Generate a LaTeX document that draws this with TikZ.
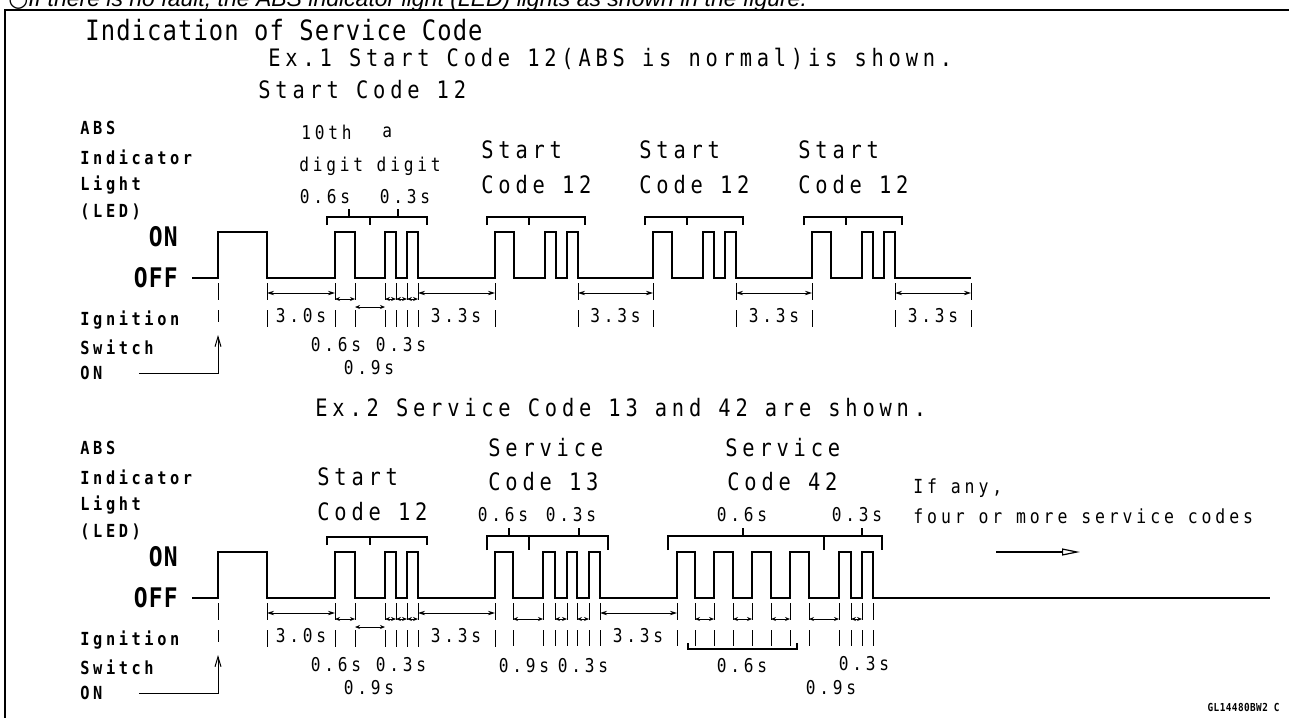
\documentclass[tikz,border=0pt]{standalone}
\usepackage{fontspec}
\usetikzlibrary{positioning,arrows.meta}
\newfontfamily\cadfont{DejaVu Sans Mono}[FakeStretch=0.85,LetterSpace=20]
\newfontfamily\cadtight{DejaVu Sans Mono}[FakeStretch=0.85,LetterSpace=4]
\newfontfamily\notefont{Liberation Sans}
\newfontfamily\bulletfont{DejaVu Sans}

\begin{document}
\begin{tikzpicture}[x=0.5pt,y=-0.5pt,>={Stealth[length=3.5pt,width=2.2pt]},
  wave/.style={line width=0.9pt},
  dimline/.style={<->,line width=0.45pt},
  gapdim/.style={{Stealth[length=2.5pt,width=2pt]}-{Stealth[length=2.5pt,width=2pt]},line width=0.45pt},
  extline/.style={line width=0.5pt,dash pattern=on 8.5pt off 5pt},
  codebracket/.style={line width=0.6pt},
  igarrow/.style={-{Straight Barb[length=5pt,width=3pt]},line width=0.5pt},
  bigarrow/.style={-{Triangle[open,length=9pt,width=3.5pt]},line width=0.6pt},
  codelbl/.style={font=\cadfont\fontsize{12}{13}\selectfont,inner sep=0pt,anchor=west},
  sidelbl/.style={font=\cadfont\bfseries\fontsize{9}{10}\selectfont,inner sep=0pt,anchor=west},
  timelbl/.style={font=\cadfont\fontsize{9.5}{10}\selectfont,inner sep=0pt},
  onoff/.style={font=\cadtight\bfseries\fontsize{13.5}{14}\selectfont,inner sep=0pt,anchor=east}]
\useasboundingbox (0,0) rectangle (1289,718);

% cut-off line above the frame
\node[font=\notefont\itshape\fontsize{11.5}{13}\selectfont,inner sep=0pt,anchor=base west] (note) at (8,6)
  {{\bulletfont\upshape ○}If there is no fault, the ABS indicator light (LED) lights as shown in the figure.};
\draw[line width=1pt] (1289,10) -- (5,10) -- (5,718);

\node[font=\cadtight\fontsize{14}{15}\selectfont,inner sep=0pt,anchor=west] (title) at (85,30) {Indication of Service Code};
\node[codelbl] (ex1) at (268,59) {Ex.1 Start Code 12(ABS is normal)is shown.};

% parts shared by both examples
\foreach \yo/\ex in {0/1,320/2}{
  \node[sidelbl] (abs\ex) at (80,128+\yo) {ABS};
  \node[sidelbl] (ind\ex) at (80,157+\yo) {Indicator};
  \node[sidelbl] (light\ex) at (80,185+\yo) {Light};
  \node[sidelbl] (led\ex) at (80,212+\yo) {(LED)};
  \node[onoff] (on\ex) at (178,237+\yo) {ON};
  \node[onoff] (off\ex) at (178,278+\yo) {OFF};
  \node[sidelbl] (ign\ex) at (80,320+\yo) {Ignition};
  \node[sidelbl] (sw\ex) at (80,347+\yo) {Switch};
  \node[sidelbl] (igon\ex) at (80,373+\yo) {ON};
  \coordinate (key\ex) at (218,335+\yo);
  \draw[igarrow] ([xshift=18pt]igon\ex.east) -| (key\ex);
  \draw[extline] (218,283+\yo) -- (218,322+\yo);
  % start code 12
  \draw[codebracket] (327,225+\yo) -- (327,217+\yo) -- (427,217+\yo) -- (427,225+\yo) (370,217+\yo) -- (370,225+\yo);
  \foreach \x in {267,335,355,385,396,407,418,495} \draw[extline] (\x,283+\yo) -- (\x,328+\yo);
  \draw[dimline] (267,293+\yo) -- (335,293+\yo);
  \draw[dimline] (418,293+\yo) -- (495,293+\yo);
  \foreach \a/\b in {335/355,385/396,396/407,407/418} \draw[gapdim] (\a,299+\yo) -- (\b,299+\yo);
  \draw[gapdim] (355,307+\yo) -- (385,307+\yo);
  \node[timelbl] (t30\ex) at (301,316+\yo) {3.0s};
  \node[timelbl] (t33\ex) at (456,316+\yo) {3.3s};
  \node[timelbl] (lo06\ex) at (336,345+\yo) {0.6s};
  \node[timelbl] (lo03\ex) at (401,345+\yo) {0.3s};
  \node[timelbl] (lo09\ex) at (369,368+\yo) {0.9s};
}

% Ex.1
\draw[wave] (192,278) -- (218,278) -- (218,232) -- (267,232) -- (267,278)
  \foreach \a/\b in {335/355,385/396,407/418,495/514,545/556,567/578,653/672,703/714,725/736,812/831,862/873,884/895}
  { -- (\a,278) -- (\a,232) -- (\b,232) -- (\b,278) } -- (971,278);
\node[codelbl] (sc1) at (258,90) {Start Code 12};
\node[timelbl,anchor=west] (tenth) at (301,132) {10th};
\node[timelbl,anchor=west] (adigit) at (382,132) {a};
\node[timelbl,anchor=west] (digits) at (299,166) {digit digit};
\node[timelbl] (up06) at (325,197) {0.6s};
\node[timelbl] (up03) at (405,197) {0.3s};
\draw[codebracket] (349,209) -- (349,217) (398,209) -- (398,217);
\foreach \s [count=\i] in {495,653,812}{
  \node[codelbl] (start\i) at (\s-14,150) {Start};
  \node[codelbl] (code\i) at (\s-14,185) {Code 12};
  \draw[codebracket] (\s-8,225) -- (\s-8,217) -- (\s+90,217) -- (\s+90,225) (\s+34,217) -- (\s+34,225);
}
\foreach \a/\b in {578/653,736/812,895/971}{
  \draw[dimline] (\a,293) -- (\b,293);
  \node[timelbl] (gap\a) at ({(\a+\b)/2},316) {3.3s};
}
\foreach \x in {578,653,736,812,895,971} \draw[extline] (\x,283) -- (\x,328);

% Ex.2
\node[codelbl] (ex2) at (315,408) {Ex.2 Service Code 13 and 42 are shown.};
\draw[wave] (192,598) -- (218,598) -- (218,552) -- (267,552) -- (267,598)
  \foreach \a/\b in {335/355,385/396,407/418,495/513,543/555,567/577,589/600,677/695,714/733,752/771,790/809,839/851,862/873}
  { -- (\a,598) -- (\a,552) -- (\b,552) -- (\b,598) } -- (1270,598);
\node[codelbl] (st2) at (317,477) {Start};
\node[codelbl] (stc2) at (317,512) {Code 12};
\node[codelbl] (sv13) at (488,448) {Service};
\node[codelbl] (c13) at (488,482) {Code 13};
\node[timelbl] (c13a) at (503,515) {0.6s};
\node[timelbl] (c13b) at (571,515) {0.3s};
\node[codelbl] (sv42) at (725,448) {Service};
\node[codelbl] (c42) at (727,482) {Code 42};
\node[timelbl] (c42a) at (742,515) {0.6s};
\node[timelbl] (c42b) at (857,515) {0.3s};
\node[timelbl,anchor=west,font=\cadfont\fontsize{9.7}{10}\selectfont] (ifany) at (913,488) {If any,};
\node[timelbl,anchor=west,font=\cadfont\fontsize{9.7}{10}\selectfont] (fourmore) at (913,516) {four or more service codes};
\coordinate (more) at (996,552);
\coordinate (moreend) at (1080,552);
\draw[bigarrow] (more) -- (moreend);
\draw[codebracket] (487,550) -- (487,536) -- (608,536) -- (608,550) (529,536) -- (529,550) (509,528) -- (509,536) (579,528) -- (579,536);
\draw[codebracket] (668,550) -- (668,536) -- (882,536) -- (882,550) (824,536) -- (824,550) (743,528) -- (743,536) (862,528) -- (862,536);
\draw[dimline] (600,613) -- (677,613);
\node[timelbl] (t33c) at (638,636) {3.3s};
\foreach \a/\b in {513/543,555/567,577/589,695/714,733/752,771/790,809/839,851/862} \draw[gapdim] (\a,619) -- (\b,619);
\foreach \x in {513,543,555,567,577,589,600,677,695,714,733,752,771,790,809,839,851,862,873} \draw[extline] (\x,603) -- (\x,646);
\draw[codebracket] (688,643) -- (688,649) -- (797,649) -- (797,643);
\node[timelbl] (lo13a) at (524,666) {0.9s};
\node[timelbl] (lo13b) at (583,666) {0.3s};
\node[timelbl] (lo42a) at (742,666) {0.6s};
\node[timelbl] (lo42b) at (864,664) {0.3s};
\node[timelbl] (lo42c) at (831,688) {0.9s};
\node[font=\cadtight\bfseries\fontsize{5.5}{6}\selectfont,inner sep=0pt,anchor=east] (figid) at (1280,707) {GL14480BW2 C};
\end{tikzpicture}
\end{document}
